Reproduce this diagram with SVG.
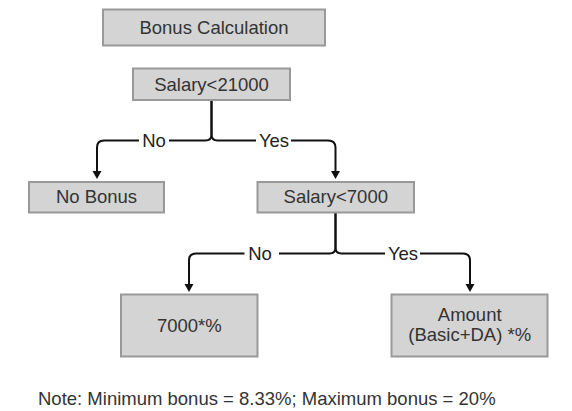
<svg xmlns="http://www.w3.org/2000/svg" width="572" height="411" viewBox="0 0 572 411">
<style>
.box{fill:#d4d4d4;stroke:#999;stroke-width:2}
.t{font-family:"Liberation Sans",Arial,sans-serif;font-size:18.5px;fill:#333;text-anchor:middle}
.lbl{font-family:"Liberation Sans",Arial,sans-serif;font-size:18.5px;fill:#222;text-anchor:middle}
.c{fill:none;stroke:#111;stroke-width:2}
.bg{fill:#fff}
</style>
<defs>
<marker id="ah" markerUnits="userSpaceOnUse" markerWidth="10" markerHeight="10" viewBox="0 0 10 10" refX="0" refY="5" orient="auto">
<path d="M0,0.5 L8,5 L0,9.5 z" fill="#111"/>
</marker>
</defs>
<rect width="572" height="411" fill="#fff"/>
<g id="connectors">
<path class="c" d="M211.5,100 V134.5 Q211.5,140.5 205.5,140.5 H104 Q97,140.5 97,147.5 V171" marker-end="url(#ah)"/>
<path class="c" d="M211.5,100 V134.5 Q211.5,140.5 217.5,140.5 H328 Q335.5,140.5 335.5,147.5 V171" marker-end="url(#ah)"/>
<path class="c" d="M335.5,213 V247.5 Q335.5,253.5 329.5,253.5 H196 Q189,253.5 189,260.5 V284" marker-end="url(#ah)"/>
<path class="c" d="M335.5,213 V247.5 Q335.5,253.5 341.5,253.5 H463 Q470,253.5 470,260.5 V284" marker-end="url(#ah)"/>
<rect class="bg" x="139" y="132" width="30" height="17"/>
<text class="lbl" x="154" y="146.5">No</text>
<rect class="bg" x="256" y="132" width="35" height="17"/>
<text class="lbl" x="274" y="146.5">Yes</text>
<rect class="bg" x="244.5" y="245" width="34.5" height="17"/>
<text class="lbl" x="260" y="259.5">No</text>
<rect class="bg" x="385" y="245" width="35" height="17"/>
<text class="lbl" x="403" y="259.5">Yes</text>
</g>
<g id="bonus-calculation">
<rect class="box" x="103" y="9.5" width="222" height="36"/>
<text class="t" x="214" y="33.8">Bonus Calculation</text>
</g>
<g id="salary-21000">
<rect class="box" x="133" y="68.5" width="157" height="31.5"/>
<text class="t" x="211.5" y="90.7">Salary&lt;21000</text>
</g>
<g id="no-bonus">
<rect class="box" x="29" y="182" width="135" height="30.5"/>
<text class="t" x="96.5" y="203.3">No Bonus</text>
</g>
<g id="salary-7000">
<rect class="box" x="257.5" y="182" width="156.5" height="30.5"/>
<text class="t" x="335.8" y="203.3">Salary&lt;7000</text>
</g>
<g id="result-7000">
<rect class="box" x="121" y="294.5" width="136.5" height="62"/>
<text class="t" x="189.3" y="332">7000*%</text>
</g>
<g id="result-amount">
<rect class="box" x="391.5" y="294.5" width="156" height="62"/>
<text class="t" x="469.7" y="320.7">Amount</text>
<text class="t" x="469.7" y="341">(Basic+DA) *%</text>
</g>
<text id="note" x="38" y="404.5" style="font-family:'Liberation Sans',Arial,sans-serif;font-size:18.5px;fill:#333">Note: Minimum bonus = 8.33%; Maximum bonus = 20%</text>
</svg>
